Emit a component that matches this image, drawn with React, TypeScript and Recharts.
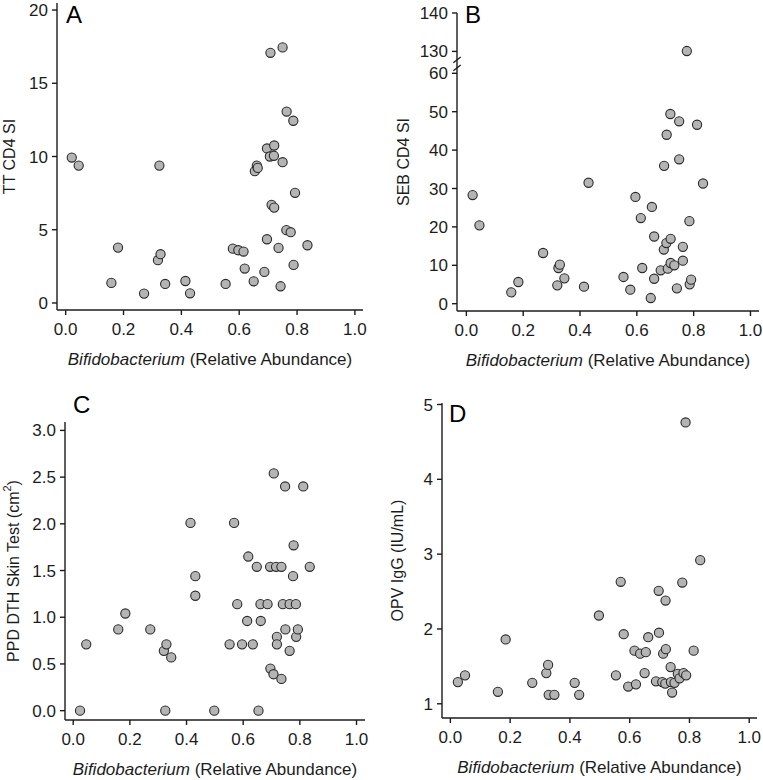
import React from 'react';
import { ScatterChart, Scatter, XAxis, YAxis, ReferenceLine } from 'recharts';

// ---------- Data ----------
const xTicks = [0, 0.2, 0.4, 0.6, 0.8, 1.0];

// Panel A: TT CD4 SI
const abundanceA = [0.021, 0.045, 0.158, 0.181, 0.271, 0.319, 0.328, 0.324, 0.344, 0.414, 0.430, 0.553, 0.578, 0.597, 0.615, 0.619, 0.650, 0.654, 0.661, 0.664, 0.687, 0.696, 0.696, 0.706, 0.720, 0.721, 0.708, 0.750, 0.712, 0.721, 0.736, 0.743, 0.750, 0.764, 0.787, 0.763, 0.778, 0.793, 0.788, 0.836];
const ttCd4 = [9.93, 9.38, 1.37, 3.78, 0.64, 2.92, 3.33, 9.38, 1.30, 1.50, 0.66, 1.30, 3.71, 3.60, 3.51, 2.35, 1.48, 9.00, 9.38, 9.22, 2.12, 4.35, 10.55, 10.0, 10.05, 10.75, 17.08, 17.45, 6.70, 6.51, 3.76, 1.14, 9.61, 13.07, 12.44, 4.97, 4.83, 7.52, 2.60, 3.94];
const yTicksA = [0, 5, 10, 15, 20];

// Panel B: SEB CD4 SI (broken axis 60 -> 130)
const abundanceB = [0.022, 0.046, 0.158, 0.183, 0.270, 0.320, 0.324, 0.329, 0.345, 0.414, 0.430, 0.553, 0.577, 0.595, 0.614, 0.619, 0.649, 0.653, 0.661, 0.661, 0.684, 0.696, 0.695, 0.704, 0.705, 0.709, 0.718, 0.719, 0.719, 0.732, 0.741, 0.749, 0.749, 0.762, 0.762, 0.776, 0.785, 0.786, 0.791, 0.812, 0.833];
const sebCd4 = [28.3, 20.4, 2.96, 5.65, 13.2, 4.78, 9.3, 10.17, 6.6, 4.43, 31.5, 6.96, 3.65, 27.8, 22.3, 9.3, 1.48, 25.2, 17.5, 6.5, 8.7, 35.9, 14.1, 15.8, 44.0, 9.13, 49.4, 16.9, 10.6, 10.0, 4.0, 37.6, 47.5, 14.8, 11.2, 130.1, 21.5, 5.04, 6.26, 46.6, 31.3];
const yTicksBLow = [0, 10, 20, 30, 40, 50, 60];
const yTicksBHigh = [130, 140];
const B_BREAK_OFFSET = 64.3; // values above the break are shifted down by this

// Panel C: PPD DTH skin test
const abundanceC = [0.024, 0.046, 0.159, 0.184, 0.272, 0.320, 0.329, 0.325, 0.346, 0.414, 0.431, 0.431, 0.498, 0.552, 0.568, 0.579, 0.596, 0.614, 0.618, 0.634, 0.648, 0.654, 0.661, 0.662, 0.686, 0.695, 0.696, 0.707, 0.708, 0.716, 0.719, 0.719, 0.735, 0.735, 0.740, 0.749, 0.748, 0.764, 0.764, 0.776, 0.778, 0.786, 0.787, 0.793, 0.812, 0.835];
const ppdDth = [0, 0.71, 0.87, 1.04, 0.87, 0.64, 0.71, 0, 0.57, 2.01, 1.44, 1.23, 0, 0.71, 2.01, 1.14, 0.71, 0.96, 1.65, 0.71, 1.54, 0, 1.14, 0.96, 1.14, 1.54, 0.45, 0.39, 2.54, 1.54, 0.79, 0.71, 1.54, 0.34, 1.14, 0.87, 2.40, 0.64, 1.14, 1.44, 1.77, 1.14, 0.79, 0.87, 2.40, 1.54];
const yTicksC = [0, 0.5, 1.0, 1.5, 2.0, 2.5, 3.0];

// Panel D: OPV IgG
const abundanceD = [0.025, 0.049, 0.159, 0.185, 0.274, 0.321, 0.327, 0.329, 0.348, 0.416, 0.431, 0.497, 0.554, 0.570, 0.580, 0.595, 0.616, 0.621, 0.635, 0.650, 0.654, 0.662, 0.688, 0.697, 0.698, 0.709, 0.712, 0.720, 0.721, 0.719, 0.737, 0.738, 0.742, 0.750, 0.761, 0.767, 0.776, 0.780, 0.787, 0.789, 0.814, 0.836];
const opvIgg = [1.29, 1.38, 1.16, 1.86, 1.28, 1.41, 1.52, 1.12, 1.12, 1.28, 1.12, 2.18, 1.38, 2.63, 1.93, 1.23, 1.71, 1.26, 1.67, 1.41, 1.69, 1.89, 1.30, 2.51, 1.95, 1.29, 1.67, 2.38, 1.73, 1.27, 1.49, 1.29, 1.15, 1.28, 1.40, 1.34, 2.62, 1.41, 4.76, 1.38, 1.71, 2.92];
const yTicksD = [1, 2, 3, 4, 5];

// ---------- Styling ----------
const FONT = '"Liberation Sans", Arial, Helvetica, sans-serif';
const INK = '#1c1c1c';
const TICK_FS = 17;
const XTITLE_FS = 17;
const YTITLE_FS = 16;

const toPoints = (xs: number[], ys: number[]) => xs.map((x, i) => ({ x, y: ys[i] }));
const bMap = (v: number) => (v > 100 ? v - B_BREAK_OFFSET : v);

const dataA = toPoints(abundanceA, ttCd4);
const dataB = abundanceB.map((x, i) => ({ x, y: bMap(sebCd4[i]) }));
const dataC = toPoints(abundanceC, ppdDth);
const dataD = toPoints(abundanceD, opvIgg);
const yTicksB = [...yTicksBLow, ...yTicksBHigh.map(bMap)];

function Dot(props: any) {
  const { cx, cy } = props;
  if (cx == null || cy == null) return null;
  return <circle cx={cx} cy={cy} r={4.6} fill="#b4b4b4" stroke="#2a2a2a" strokeWidth={1.1} />;
}

const tickStyle = { fontSize: TICK_FS, fill: INK, fontFamily: FONT };

type PanelProps = {
  left: number;
  top: number;
  width: number;
  height: number;
  margin: { top: number; right: number; left: number; bottom: number };
  yWidth: number;
  xHeight: number;
  xDomain: [number, number];
  yDomain: [number, number];
  yTicks: number[];
  yFmt: (v: number) => string;
  data: { x: number; y: number }[];
  yTitle: React.ReactNode;
  yTitleX: number;
  extra?: React.ReactNode;
};

function Panel(p: PanelProps) {
  return (
    <div style={{ position: 'absolute', left: p.left, top: p.top, width: p.width, height: p.height }}>
      <ScatterChart width={p.width} height={p.height} margin={p.margin}>
        <XAxis
          type="number"
          dataKey="x"
          domain={p.xDomain}
          ticks={xTicks}
          interval={0}
          allowDataOverflow
          tickFormatter={(v: number) => v.toFixed(1)}
          height={p.xHeight}
          stroke={INK}
          strokeWidth={1.4}
          tickSize={5}
          tickMargin={8}
          tick={tickStyle}
          label={(lp: any) => {
            const vb = lp.viewBox || {};
            return (
              <text
                x={vb.x + vb.width / 2}
                y={vb.y + 55}
                textAnchor="middle"
                fontFamily={FONT}
                fontSize={XTITLE_FS}
                fill={INK}
              >
                <tspan fontStyle="italic">Bifidobacterium</tspan>
                <tspan> (Relative Abundance)</tspan>
              </text>
            );
          }}
        />
        <YAxis
          type="number"
          dataKey="y"
          domain={p.yDomain}
          ticks={p.yTicks}
          interval={0}
          allowDataOverflow
          tickFormatter={p.yFmt}
          width={p.yWidth}
          stroke={INK}
          strokeWidth={1.4}
          tickSize={5}
          tickMargin={4}
          tick={tickStyle}
          label={(lp: any) => {
            const vb = lp.viewBox || {};
            const cx = vb.x + p.yTitleX;
            const cy = vb.y + vb.height / 2;
            return (
              <text
                x={cx}
                y={cy}
                transform={`rotate(-90 ${cx} ${cy})`}
                textAnchor="middle"
                dominantBaseline="central"
                fontFamily={FONT}
                fontSize={YTITLE_FS}
                fill={INK}
              >
                {p.yTitle}
              </text>
            );
          }}
        />
        {p.extra}
        <Scatter data={p.data} shape={<Dot />} isAnimationActive={false} />
      </ScatterChart>
    </div>
  );
}

export default function App() {
  const breakCenters = [61.4, 63.5];
  const breakMarks = breakCenters.map((c, i) => (
    <ReferenceLine
      key={'brk' + i}
      segment={[
        { x: -0.046, y: c - 0.75 },
        { x: -0.02, y: c + 0.75 },
      ]}
      stroke={INK}
      strokeWidth={1.3}
      ifOverflow="visible"
    />
  ));

  return (
    <div style={{ position: 'absolute', left: 0, top: 0, width: 763, height: 780, background: '#fff', fontFamily: FONT }}>
      <Panel
        left={0}
        top={0}
        width={381}
        height={390}
        margin={{ top: 3, right: 18, left: 0, bottom: 0 }}
        yWidth={57}
        xHeight={80}
        xDomain={[-0.03, 1.028]}
        yDomain={[-0.48, 20.48]}
        yTicks={yTicksA}
        yFmt={(v) => String(v)}
        data={dataA}
        yTitle="TT CD4 SI"
        yTitleX={9}
      />
      <Panel
        left={381}
        top={0}
        width={382}
        height={390}
        margin={{ top: 13, right: 4, left: 0, bottom: 0 }}
        yWidth={76}
        xHeight={79}
        xDomain={[-0.033, 1.03]}
        yDomain={[-1.9, bMap(140)]}
        yTicks={yTicksB}
        yFmt={(v) => String(v > 62 ? Math.round(v + B_BREAK_OFFSET) : v)}
        data={dataB}
        yTitle="SEB CD4 SI"
        yTitleX={22}
        extra={breakMarks}
      />
      <Panel
        left={0}
        top={390}
        width={381}
        height={390}
        margin={{ top: 32, right: 16, left: 0, bottom: 0 }}
        yWidth={65}
        xHeight={60}
        xDomain={[-0.029, 1.03]}
        yDomain={[-0.1, 3.09]}
        yTicks={yTicksC}
        yFmt={(v) => v.toFixed(1)}
        data={dataC}
        yTitle={
          <>
            <tspan>PPD DTH Skin Test (cm</tspan>
            <tspan baselineShift="super" fontSize={11}>2</tspan>
            <tspan>)</tspan>
          </>
        }
        yTitleX={13}
      />
      <Panel
        left={381}
        top={390}
        width={382}
        height={390}
        margin={{ top: 13, right: 6, left: 0, bottom: 0 }}
        yWidth={61}
        xHeight={62}
        xDomain={[-0.028, 1.026]}
        yDomain={[0.81, 5.02]}
        yTicks={yTicksD}
        yFmt={(v) => String(v)}
        data={dataD}
        yTitle="OPV IgG (IU/mL)"
        yTitleX={16}
      />
      <svg
        width={763}
        height={780}
        style={{ position: 'absolute', left: 0, top: 0, pointerEvents: 'none' }}
      >
        <g fontFamily={FONT} fontSize={24} fill="#000">
          <text x={66} y={23}>A</text>
          <text x={465} y={23}>B</text>
          <text x={73} y={413}>C</text>
          <text x={449} y={422}>D</text>
        </g>
      </svg>
    </div>
  );
}
